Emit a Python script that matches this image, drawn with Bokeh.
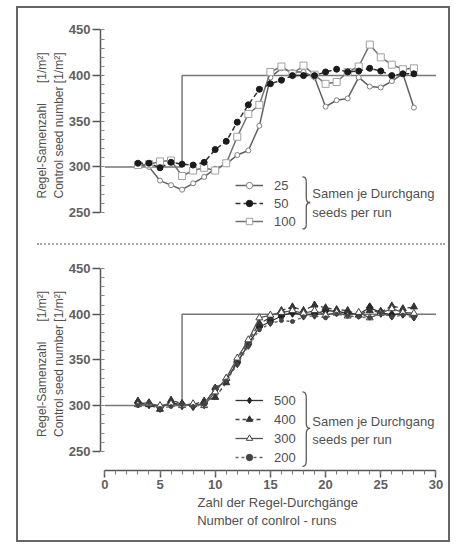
from bokeh.plotting import figure
from bokeh.models import Range1d, SingleIntervalTicker, Legend, LegendItem, Label, Div
from bokeh.layouts import column
from bokeh.embed import file_html
from bokeh.resources import INLINE

# ---------------- data ----------------
runs = list(range(3, 29))
setpoint_x = [0, 7, 7, 30]
setpoint_y = [300, 300, 400, 400]

# top panel: seeds per run 25 / 50 / 100
seeds_25 = [303, 300, 285, 280, 275, 282, 289, 298, 303, 313, 318, 345, 398, 408,
            404, 404, 398, 366, 373, 375, 398, 388, 387, 394, 402, 365]
seeds_50 = [304, 304, 299, 305, 303, 302, 305, 319, 328, 349, 368, 385, 391, 395,
            400, 400, 400, 404, 407, 404, 405, 408, 405, 400, 402, 402]
seeds_100 = [302, 303, 306, 307, 290, 296, 299, 296, 304, 333, 358, 368, 404, 410,
             402, 411, 401, 391, 393, 404, 410, 434, 420, 412, 407, 408]

# bottom panel: seeds per run 500 / 400 / 300 / 200
seeds_500 = [303, 302, 298, 303, 301, 300, 302, 318, 328, 347, 367, 386, 392, 398,
             402, 399, 400, 404, 403, 401, 400, 407, 402, 399, 401, 398]
seeds_400 = [305, 301, 296, 306, 302, 301, 305, 309, 325, 350, 370, 390, 396, 404,
             408, 404, 410, 407, 405, 404, 399, 404, 402, 409, 406, 408]
seeds_300 = [301, 302, 300, 302, 300, 302, 300, 315, 330, 352, 372, 396, 399, 402,
             404, 401, 404, 399, 402, 398, 402, 396, 401, 406, 402, 401]
seeds_200 = [300, 303, 297, 299, 301, 299, 301, 320, 327, 345, 365, 383, 390, 393,
             392, 397, 398, 396, 400, 398, 397, 396, 401, 397, 399, 396]

top_labels = ["25", "50", "100"]
bottom_labels = ["500", "400", "300", "200"]
group_text = ["Samen je Durchgang", "seeds per run"]
NB = "\u00a0"
y_title = "Regel-Samenzahl" + NB * 6 + "[1/m²]\nControl seed number [1/m²]"
x_title = (NB * 4 + "Zahl der Regel-Durchgänge\n" + NB * 4 +
           "Number of conlrol - runs" + NB * 6)

FONT = "Liberation Sans"
AX = "#555555"
TXT = "#505050"


def make_fig(height, y_start, y_end, b_top, b_bottom, with_x):
    p = figure(width=430, height=height,
               x_range=Range1d(-0.39, 30.41), y_range=Range1d(y_start, y_end),
               output_backend="svg", toolbar_location=None,
               x_axis_location="below" if with_x else None,
               min_border_left=82, min_border_right=8,
               min_border_top=b_top, min_border_bottom=b_bottom)
    p.outline_line_color = None
    p.grid.visible = False
    p.background_fill_color = "white"
    p.border_fill_color = "white"
    ya = p.yaxis[0]
    ya.ticker = SingleIntervalTicker(interval=50, num_minor_ticks=5)
    ya.bounds = (250, 450)
    ya.axis_line_color = AX
    ya.axis_line_width = 1.5
    ya.major_tick_line_color = AX
    ya.major_tick_line_width = 1.5
    ya.major_tick_out = 8
    ya.major_tick_in = 0
    ya.minor_tick_line_color = "#888888"
    ya.minor_tick_in = 4
    ya.minor_tick_out = 0
    ya.major_label_text_font = FONT
    ya.major_label_text_font_size = "13px"
    ya.major_label_text_font_style = "bold"
    ya.major_label_text_color = "#606060"
    ya.major_label_standoff = 2
    ya.axis_label = y_title
    ya.axis_label_text_font = FONT
    ya.axis_label_text_font_size = "12px"
    ya.axis_label_text_font_style = "normal"
    ya.axis_label_text_color = TXT
    ya.axis_label_standoff = 0
    if with_x:
        xa = p.xaxis[0]
        xa.ticker = SingleIntervalTicker(interval=5, num_minor_ticks=5)
        xa.bounds = (0, 30)
        xa.axis_line_color = AX
        xa.axis_line_width = 1.5
        xa.major_tick_line_color = AX
        xa.major_tick_line_width = 1.5
        xa.major_tick_out = 7
        xa.major_tick_in = 0
        xa.minor_tick_line_color = "#777777"
        xa.minor_tick_out = 4
        xa.minor_tick_in = 0
        xa.major_label_text_font = FONT
        xa.major_label_text_font_size = "13px"
        xa.major_label_text_font_style = "bold"
        xa.major_label_text_color = "#606060"
        xa.major_label_standoff = 2
        xa.axis_label = x_title
        xa.axis_label_text_font = FONT
        xa.axis_label_text_font_size = "13px"
        xa.axis_label_text_font_style = "normal"
        xa.axis_label_text_color = TXT
        xa.axis_label_standoff = 3
    # setpoint step line
    p.line(setpoint_x, setpoint_y, line_color="#777777", line_width=1.5)
    return p


def group_annotation(p, x, y1, y2, brace):
    # curly brace built from two straight strokes and four quadratic hooks
    bx0, bx1, yt, ym, yb, d = brace
    xm = (bx0 + bx1) / 2
    p.quadratic(x0=[bx0, xm, bx1, xm], y0=[yt, ym + d, ym, yb + d],
                x1=[xm, bx1, xm, bx0], y1=[yt - d, ym, ym - d, yb],
                cx=[xm, xm, xm, xm], cy=[yt, ym, ym, yb],
                line_color="#5a5a5a", line_width=1.3)
    p.segment(x0=[xm, xm], y0=[yt - d, ym - d], x1=[xm, xm], y1=[ym + d, yb + d],
              line_color="#5a5a5a", line_width=1.3)
    for t, yy in zip(group_text, [y1, y2]):
        p.add_layout(Label(x=x, y=yy, text=t, text_font=FONT, text_font_size="13px",
                           text_color=TXT, text_baseline="middle"))


def add_legend(p, items, loc, spacing, gh):
    lg = Legend(items=items, location=loc, orientation="vertical",
                border_line_color=None, background_fill_alpha=0,
                padding=0, margin=0, spacing=spacing,
                glyph_width=28, glyph_height=gh, label_height=gh,
                label_standoff=11, label_text_font=FONT,
                label_text_font_size="13px", label_text_color=TXT)
    p.add_layout(lg)


# ---------------- top panel ----------------
p1 = make_fig(235, 230.3, 460.4, 12, 13, False)
l25 = p1.line(runs, seeds_25, line_color="#606060", line_width=1.5)
m25 = p1.scatter(runs, seeds_25, marker="circle", size=5, fill_color="white",
                 line_color="#808080", line_width=1)
l100 = p1.line(runs, seeds_100, line_color="#707070", line_width=1.5)
m100 = p1.scatter(runs, seeds_100, marker="square", size=7, fill_color="white",
                  line_color="#a0a0a0", line_width=1)
l50 = p1.line(runs, seeds_50, line_color="#303030", line_width=1.5, line_dash="5 3")
m50 = p1.scatter(runs, seeds_50, marker="circle", size=6, fill_color="#1a1a1a",
                 line_color="#1a1a1a")
add_legend(p1, [LegendItem(label=top_labels[0], renderers=[l25, m25]),
                LegendItem(label=top_labels[1], renderers=[l50, m50]),
                LegendItem(label=top_labels[2], renderers=[l100, m100])],
           (135, 1), 2, 16)
group_annotation(p1, 18.8, 271, 250, (17.9, 18.6, 289, 261, 232, 5))

# separator
sep = Div(text="", width=408, height=2, margin=(0, 0, 0, 19),
          styles={"border-top": "2px dotted #a8a8a8", "box-sizing": "border-box"})

# ---------------- bottom panel ----------------
p2 = make_fig(295, 229, 462, 12, 70, True)
l500 = p2.line(runs, seeds_500, line_color="#333333", line_width=1.3)
m500 = p2.scatter(runs, seeds_500, marker="diamond", size=10, fill_color="#222222",
                  line_color="#222222")
l400 = p2.line(runs, seeds_400, line_color="#444444", line_width=1.3, line_dash="4 3")
m400 = p2.scatter(runs, seeds_400, marker="triangle", size=7, fill_color="#333333",
                  line_color="#333333")
l300 = p2.line(runs, seeds_300, line_color="#555555", line_width=1.3)
m300 = p2.scatter(runs, seeds_300, marker="triangle", size=7, fill_color="white",
                  line_color="#444444")
l200 = p2.line(runs, seeds_200, line_color="#666666", line_width=1.3, line_dash="3 3")
m200 = p2.scatter(runs, seeds_200, marker="circle", size=4, fill_color="#444444",
                  line_color="#444444")
add_legend(p2, [LegendItem(label=bottom_labels[0], renderers=[l500, m500]),
                LegendItem(label=bottom_labels[1], renderers=[l400, m400]),
                LegendItem(label=bottom_labels[2], renderers=[l300, m300]),
                LegendItem(label=bottom_labels[3], renderers=[l200, m200])],
           (135, 5), 3, 16)
group_annotation(p2, 18.8, 282.6, 263, (17.9, 18.6, 315, 275, 233.5, 6))

layout = column(p1, sep, p2, spacing=0,
                styles={"position": "absolute", "left": "16px", "top": "6px",
                        "border": "2px solid #666666", "box-sizing": "content-box"})

open("out.html", "w").write(file_html(layout, INLINE))
